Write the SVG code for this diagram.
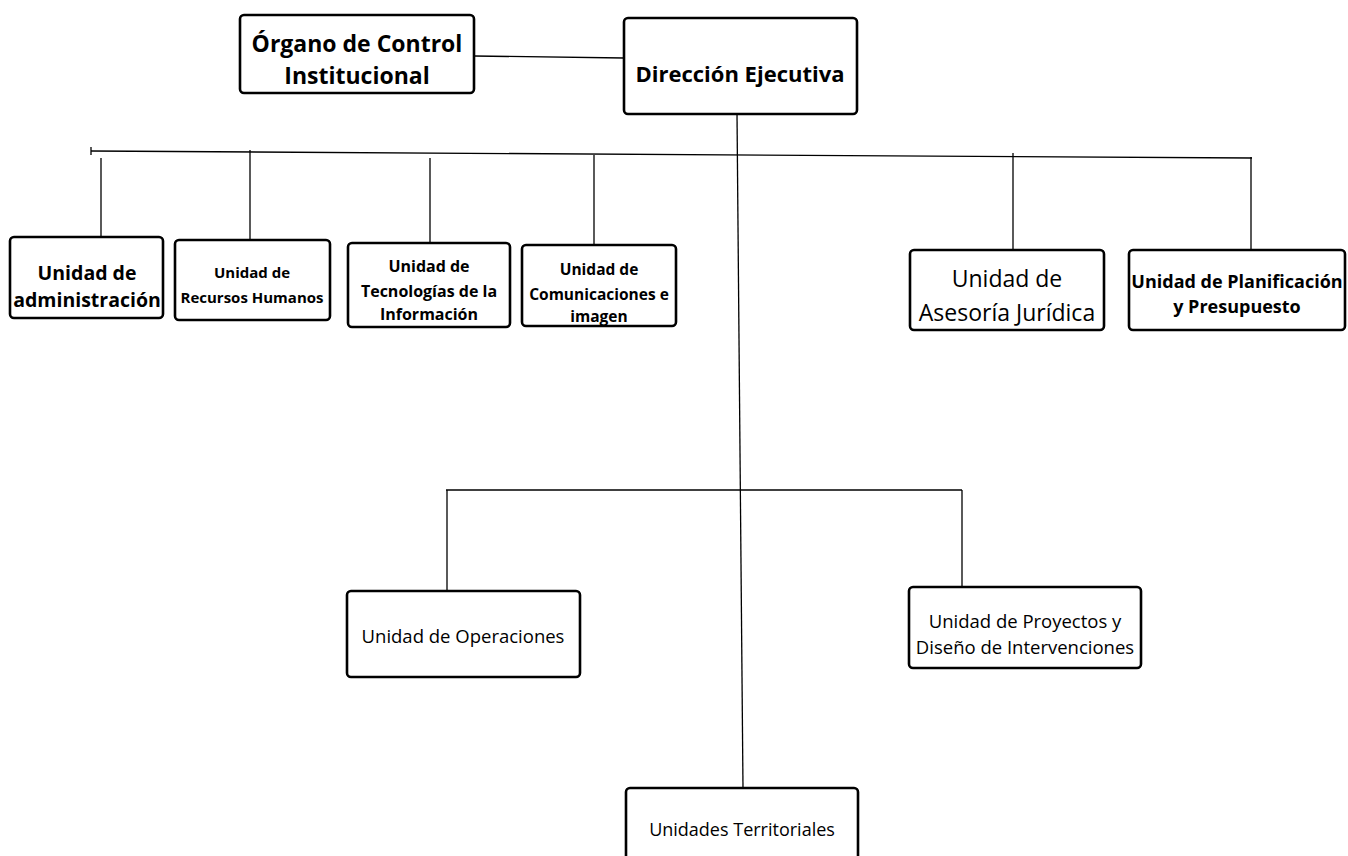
<svg xmlns="http://www.w3.org/2000/svg" width="1348" height="856" viewBox="0 0 1348 856">
<style>
.box{fill:#fff;stroke:#000;stroke-width:2.6}
.ln{stroke:#000;stroke-width:1.3;fill:none}
text{font-family:"Open Sans","Noto Sans","Liberation Sans",sans-serif;fill:#000;text-anchor:middle}
.b{font-weight:bold}
</style>
<rect width="1348" height="856" fill="#fff"/>
<g id="connectors">
<line class="ln" x1="474" y1="56" x2="624" y2="58"/>
<line class="ln" x1="737" y1="114" x2="743" y2="788"/>
<line class="ln" x1="91" y1="151" x2="1252" y2="158"/>
<line class="ln" x1="91" y1="147" x2="91" y2="155"/>
<line class="ln" x1="101" y1="158" x2="101" y2="236"/>
<line class="ln" x1="250" y1="150" x2="250" y2="239"/>
<line class="ln" x1="430" y1="158" x2="430" y2="242"/>
<line class="ln" x1="594" y1="155" x2="594" y2="244"/>
<line class="ln" x1="1013" y1="153" x2="1013" y2="249"/>
<line class="ln" x1="1251" y1="157" x2="1251" y2="250"/>
<line class="ln" x1="446" y1="490" x2="962" y2="490"/>
<line class="ln" x1="447" y1="490" x2="447" y2="590"/>
<line class="ln" x1="962" y1="490" x2="962" y2="586"/>
</g>
<g id="organo"><rect class="box" x="240" y="15" width="234" height="78" rx="4"/><text class="b" font-size="23" x="357" y="52">Órgano de Control</text><text class="b" font-size="23" x="357" y="84">Institucional</text></g>
<g id="direccion"><rect class="box" x="624" y="18" width="233" height="96" rx="4"/><text class="b" font-size="22" x="740" y="82">Dirección Ejecutiva</text></g>
<g id="administracion"><rect class="box" x="10" y="237" width="153" height="81" rx="4"/><text class="b" font-size="19.5" x="87" y="280">Unidad de</text><text class="b" font-size="19.5" x="87" y="307">administración</text></g>
<g id="rrhh"><rect class="box" x="175" y="240" width="155" height="80" rx="4"/><text class="b" font-size="15" x="252" y="278">Unidad de</text><text class="b" font-size="15" x="252" y="303">Recursos Humanos</text></g>
<g id="tecnologias"><rect class="box" x="348" y="243" width="162" height="84" rx="4"/><text class="b" font-size="16" x="429" y="272">Unidad de</text><text class="b" font-size="16" x="429" y="297">Tecnologías de la</text><text class="b" font-size="16" x="429" y="320">Información</text></g>
<g id="comunicaciones"><rect class="box" x="522" y="245" width="154" height="81" rx="4"/><text class="b" font-size="15.5" x="599" y="275">Unidad de</text><text class="b" font-size="15.5" x="599" y="300">Comunicaciones e</text><text class="b" font-size="15.5" x="599" y="322">imagen</text></g>
<g id="juridica"><rect class="box" x="910" y="250" width="194" height="80" rx="4"/><text font-size="23" x="1007" y="287">Unidad de</text><text font-size="23" x="1007" y="321">Asesoría Jurídica</text></g>
<g id="planificacion"><rect class="box" x="1129" y="250" width="216" height="80" rx="4"/><text class="b" font-size="18" x="1237" y="288">Unidad de Planificación</text><text class="b" font-size="18" x="1237" y="313">y Presupuesto</text></g>
<g id="operaciones"><rect class="box" x="347" y="591" width="233" height="86" rx="4"/><text font-size="18.5" x="463" y="643">Unidad de Operaciones</text></g>
<g id="proyectos"><rect class="box" x="909" y="587" width="232" height="81" rx="4"/><text font-size="18.5" x="1025" y="628">Unidad de Proyectos y</text><text font-size="18.5" x="1025" y="654">Diseño de Intervenciones</text></g>
<g id="territoriales"><rect class="box" x="626" y="788" width="232" height="80" rx="4"/><text font-size="18" x="742" y="836">Unidades Territoriales</text></g>
</svg>
